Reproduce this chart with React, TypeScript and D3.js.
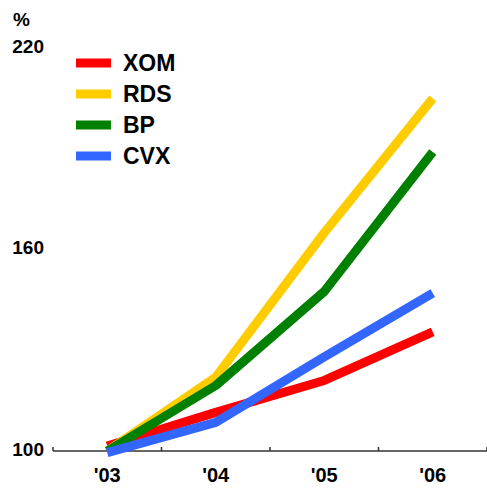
import React from "react";
import * as d3 from "d3";

const years = ["'03", "'04", "'05", "'06"];
const seriesNames = ["XOM", "RDS", "BP", "CVX"];
const seriesColors = ["#ff0000", "#ffcc00", "#008000", "#3366ff"];
const xomValues = [101.5, 111.5, 121, 135.5];
const rdsValues = [100, 122, 165, 205];
const bpValues = [100, 119.5, 147.5, 189];
const cvxValues = [99.5, 108.5, 128, 147];
const yTicks = [100, 160, 220];

const W = 487;
const H = 489;

export default function App() {
  const x = d3.scaleBand<string>().domain(years).range([53, 487]);
  const y = d3.scaleLinear().domain([100, 220]).range([451, 48]);
  const all = [xomValues, rdsValues, bpValues, cvxValues];
  const line = d3
    .line<number>()
    .x((_, i) => (x(years[i]) as number) + x.bandwidth() / 2)
    .y((d) => y(d));
  const tickXs = years.map((yr) => x(yr) as number).concat([x.range()[1]]);
  const font = "Arial, 'Liberation Sans', sans-serif";
  return (
    <svg
      width={W}
      height={H}
      style={{ position: "absolute", left: 0, top: 0, background: "#fff" }}
      fontFamily={font}
    >
      <text x={13} y={26} fontSize={19} fontWeight="bold" fill="#000">
        %
      </text>
      {yTicks.map((t) => (
        <text
          key={t}
          x={44}
          y={y(t) - 2}
          dy="0.35em"
          textAnchor="end"
          fontSize={19}
          fontWeight="bold"
          fill="#000"
        >
          {t}
        </text>
      ))}
      <line x1={53} x2={487} y1={y(100)} y2={y(100)} stroke="#333" strokeWidth={1.5} />
      {tickXs.map((tx, i) => (
        <line key={i} x1={tx} x2={tx} y1={y(100) - 4} y2={y(100)} stroke="#333" strokeWidth={1.5} />
      ))}
      {years.map((yr) => (
        <text
          key={yr}
          x={(x(yr) as number) + x.bandwidth() / 2}
          y={482}
          textAnchor="middle"
          fontSize={20}
          fontWeight="bold"
          fill="#000"
        >
          {yr}
        </text>
      ))}
      {all.map((vals, i) => (
        <path
          key={seriesNames[i]}
          d={line(vals) as string}
          fill="none"
          stroke={seriesColors[i]}
          strokeWidth={9}
          strokeLinejoin="round"
        />
      ))}
      {seriesNames.map((n, i) => (
        <g key={n} transform={`translate(76, ${63 + i * 31})`}>
          <rect x={0} y={-4.5} width={35} height={9} fill={seriesColors[i]} />
          <text x={47} y={0} dy="0.36em" fontSize={23} fontWeight="bold" fill="#000">
            {n}
          </text>
        </g>
      ))}
    </svg>
  );
}
